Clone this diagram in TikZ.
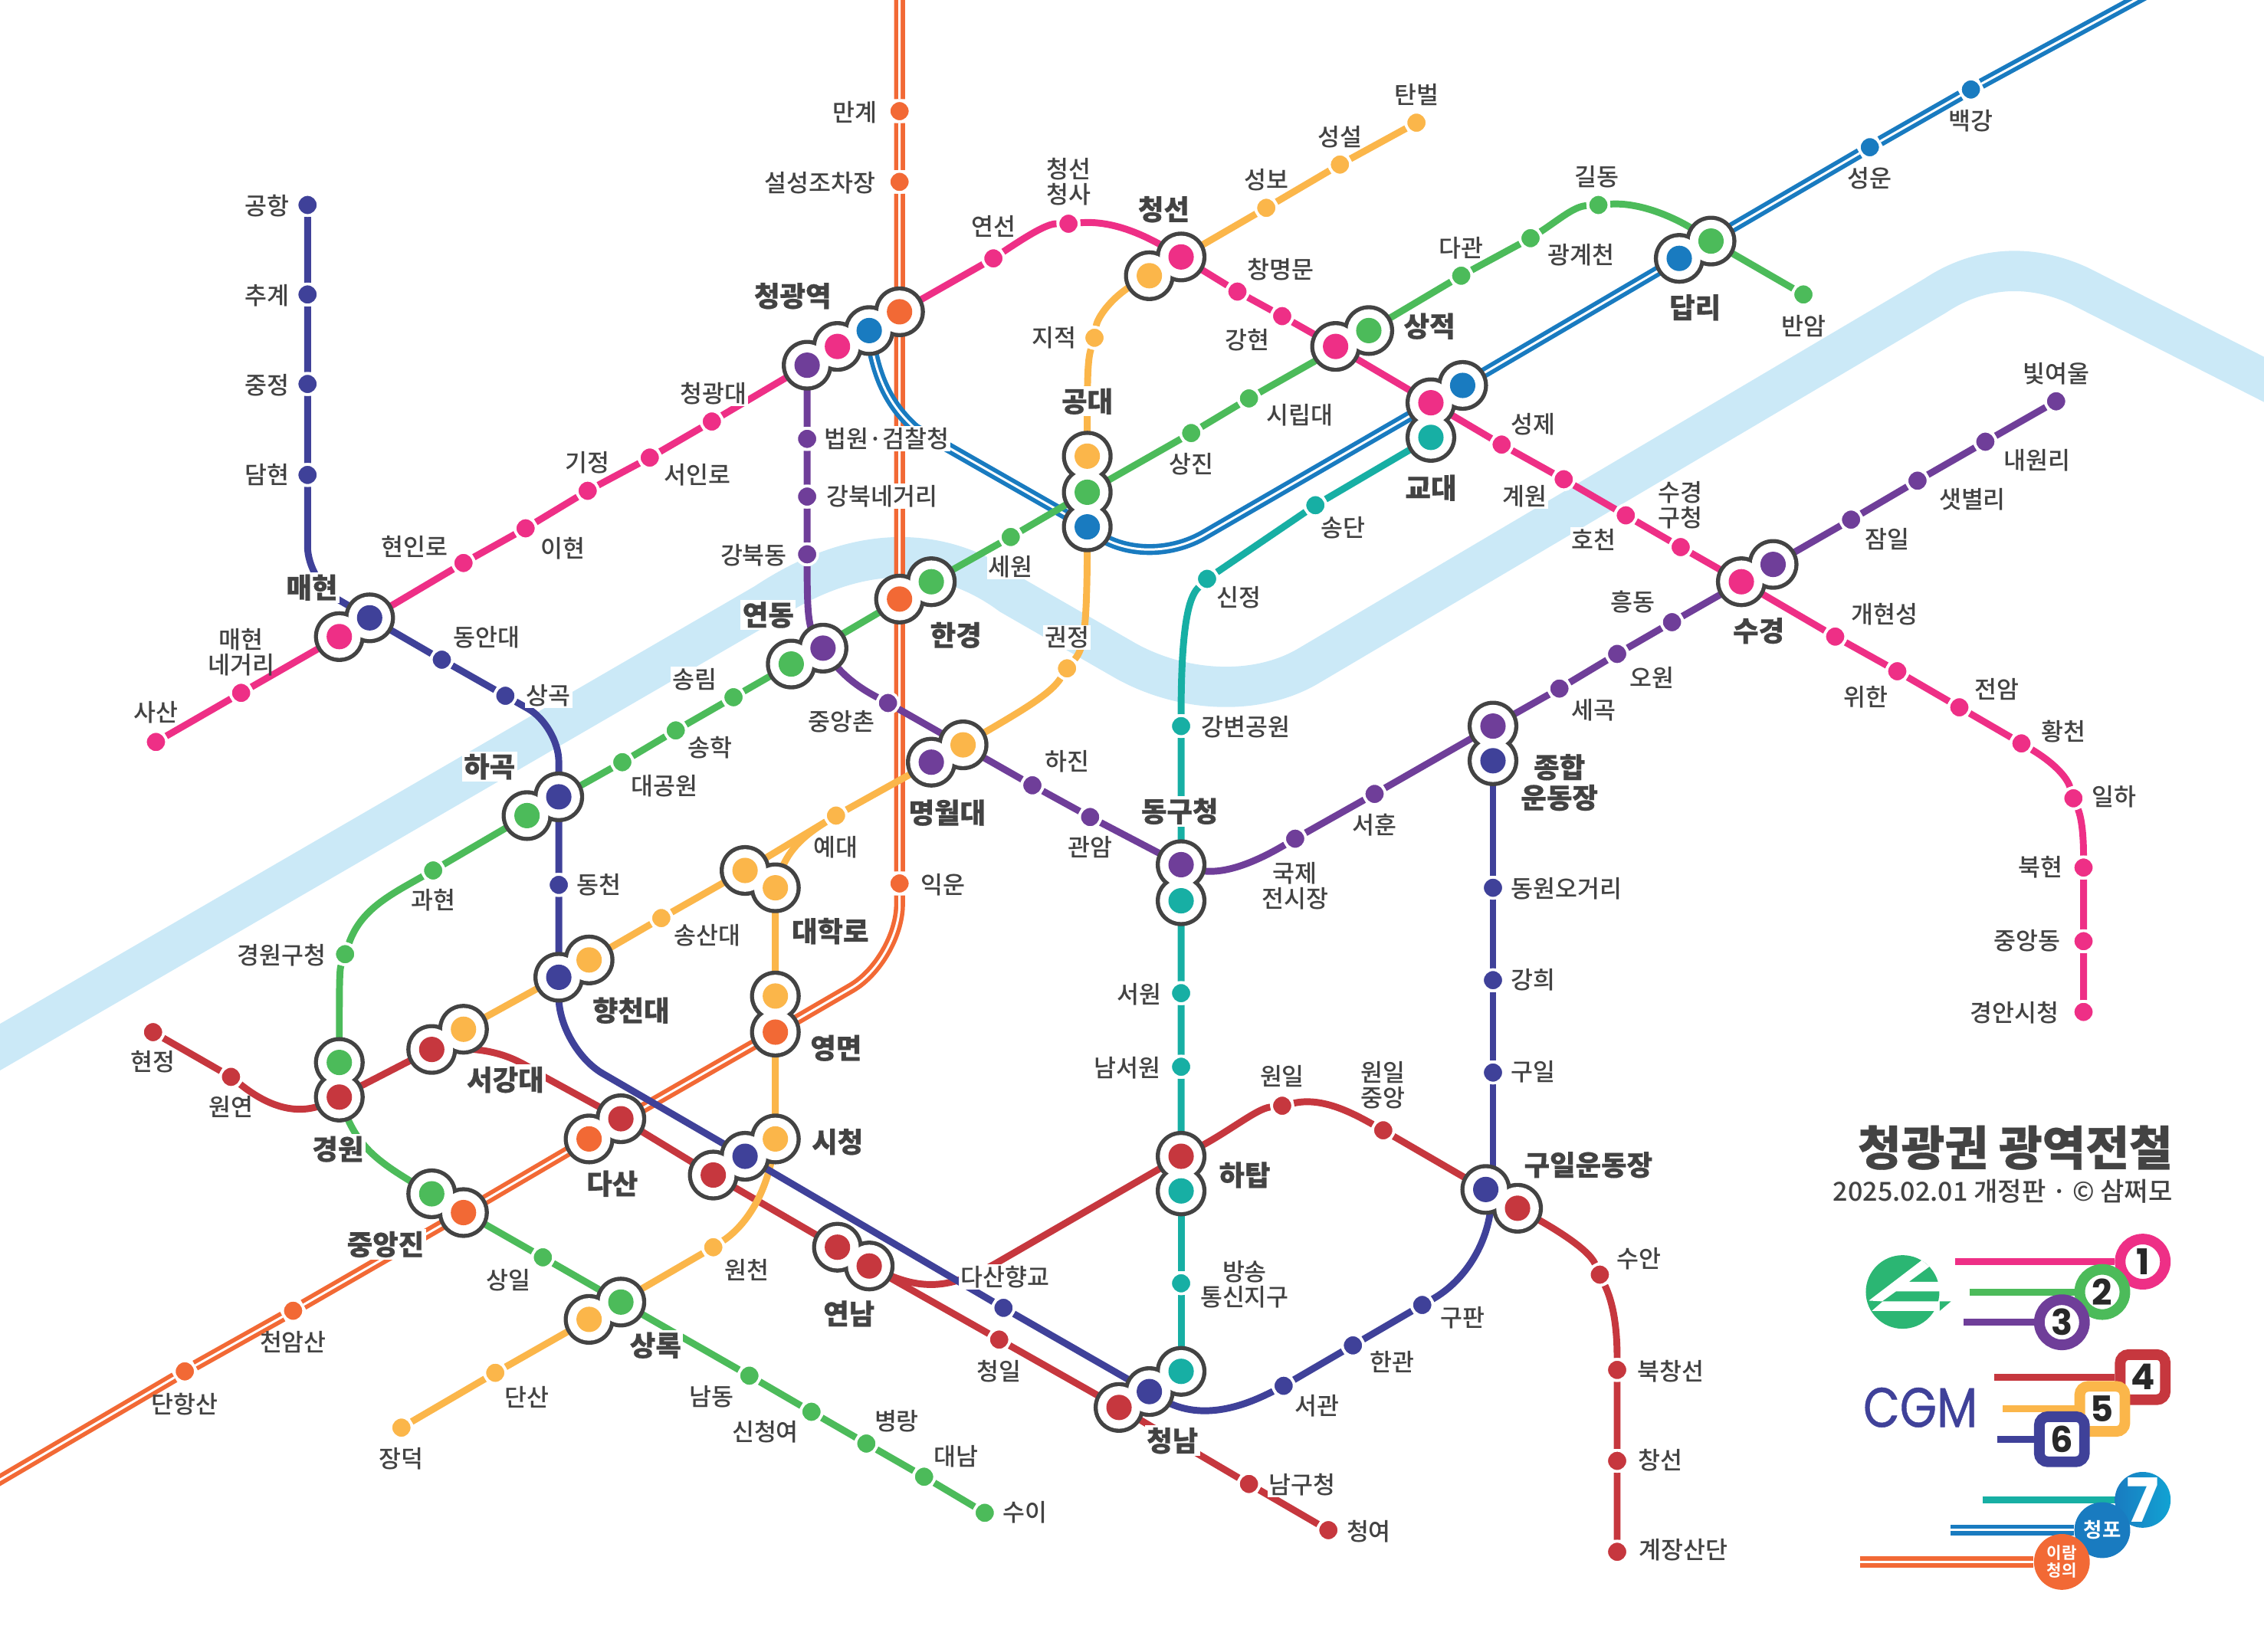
\documentclass[tikz,border=0pt]{standalone}
\usepackage{fontspec}
\usepackage{xcolor}
\setmainfont{Noto Sans CJK KR Medium}
\newfontfamily\hvyfont[FakeBold=0.5]{Noto Sans CJK KR Black}
\newfontfamily\bldfont{Noto Sans CJK KR Bold}
\newfontfamily\numfont{Poppins}
\newfontfamily\cgmfont[FakeBold=0.7]{Poppins}
\usetikzlibrary{calc}
\definecolor{pnk}{HTML}{EE2F86}
\definecolor{grn}{HTML}{4CBB5A}
\definecolor{prp}{HTML}{6F3E99}
\definecolor{rdd}{HTML}{C6373E}
\definecolor{ylw}{HTML}{FBB64A}
\definecolor{nvy}{HTML}{3F4199}
\definecolor{tel}{HTML}{17AFA4}
\definecolor{blu}{HTML}{197BC0}
\definecolor{org}{HTML}{F26935}
\definecolor{drk}{HTML}{434343}
\definecolor{riv}{HTML}{CBE9F7}
\definecolor{lgo}{HTML}{2BB673}
\pgfdeclarelayer{river}
\pgfdeclarelayer{lines}
\pgfdeclarelayer{rings}
\pgfsetlayers{river,lines,rings,main}
\newcommand{\xring}[1]{
  \foreach \s in {#1} {\fill[drk] (\s.center) circle (10pt);}
  \foreach \s in {#1} {\fill[white] (\s.center) circle (8.4pt);}
}
\tikzset{
  ln/.style={draw=#1, line width=2.7pt},
  dbl/.style={draw=#1, line width=1.7pt, double=white, double distance=0.9pt},
  st/.style={circle, fill=#1, draw=white, line width=1.1pt, minimum size=8.3pt, inner sep=0pt},
  xd/.style={circle, fill=#1, minimum size=10pt, inner sep=0pt},
  lbl/.style={text=drk, inner sep=0.6pt, align=center, yshift=-0.4pt, font=\fontsize{9.5}{10}\selectfont},
  lblw/.style={lbl, fill=white},
  big/.style={text=drk, inner sep=0.8pt, align=center, font=\hvyfont\fontsize{11}{12}\selectfont},
  bigw/.style={big, fill=white},
  lgc/.style={circle, draw=#1, fill=white, line width=4.2pt, minimum size=17.8pt, inner sep=0pt, text=drk!60!black, font=\numfont\bfseries\fontsize{14}{14}\selectfont},
  lgs/.style={rectangle, rounded corners=3.4pt, draw=#1, fill=white, line width=4.2pt, minimum size=17.8pt, inner sep=0pt, text=drk!60!black, font=\numfont\bfseries\fontsize{14}{14}\selectfont},
}
\begin{document}
\begin{tikzpicture}[x=0.02cm, y=-0.02cm]
\useasboundingbox (0,0) rectangle (1568,1144.4);

% river
\begin{pgfonlayer}{river}
\draw[riv, line width=15.9pt] (-20,737) -- (530,418) .. controls (590,378) and (650,375) .. (700,412) -- (780,458) .. controls (820,480) and (870,482) .. (905,462) -- (1340,205) .. controls (1370,185) and (1405,182) .. (1440,198) -- (1590,274);
\end{pgfonlayer}

% line 1 stations
\node[st=pnk] (sasan) at (108,514) {};
\node[st=pnk] (mhng) at (167,480) {};
\node[xd=pnk] (mhp) at (235,441) {};
\node[st=pnk] (hyeonin) at (321,390) {};
\node[st=pnk] (ihyeon) at (364,366) {};
\node[st=pnk] (gijeong) at (407,340) {};
\node[st=pnk] (seoin) at (450,317) {};
\node[st=pnk] (cgdae) at (493,292) {};
\node[xd=pnk] (cgp) at (580,240) {};
\node[st=pnk] (yeonseon) at (688,179) {};
\node[st=pnk] (csch) at (740,155) {};
\node[xd=pnk] (csp) at (818,178) {};
\node[st=pnk] (changm) at (857,202) {};
\node[st=pnk] (ganghyeon) at (888,219) {};
\node[xd=pnk] (sjp) at (925,240) {};
\node[xd=pnk] (gyp) at (991,279) {};
\node[st=pnk] (gyewon) at (1040,308) {};
\node[st=pnk] (seongje) at (1083,332) {};
\node[st=pnk] (hocheon) at (1126,357) {};
\node[st=pnk] (sggu) at (1164,379) {};
\node[xd=pnk] (skp) at (1206,403) {};
\node[st=pnk] (gaehyeon) at (1271,441) {};
\node[st=pnk] (wihan) at (1314,465) {};
\node[st=pnk] (jeonam) at (1357,490) {};
\node[st=pnk] (hwangcheon) at (1400,515) {};
\node[st=pnk] (ilha) at (1436,553) {};
\node[st=pnk] (bukhyeon) at (1443,601) {};
\node[st=pnk] (jungang) at (1443,652) {};
\node[st=pnk] (gasi) at (1443,701) {};

% line 2 stations
\node[st=grn] (banam) at (1249,204) {};
\node[xd=grn] (dlg) at (1185,167) {};
\node[st=grn] (gildong) at (1107,142) {};
\node[st=grn] (gwanggye) at (1060,165) {};
\node[st=grn] (dagwan) at (1012,191) {};
\node[xd=grn] (sjg) at (948,229) {};
\node[st=grn] (sirip) at (865,276) {};
\node[st=grn] (sangjin) at (825,300) {};
\node[xd=grn] (gdg) at (753,341) {};
\node[st=grn] (sewon) at (700,372) {};
\node[xd=grn] (hgg) at (645,403) {};
\node[xd=grn] (ydg) at (548,460) {};
\node[st=grn] (songnim) at (508,483) {};
\node[st=grn] (songhak) at (468,506) {};
\node[st=grn] (daegong) at (431,528) {};
\node[xd=grn] (hkg) at (365,565) {};
\node[st=grn] (gwahyeon) at (300,603) {};
\node[st=grn] (gwgu) at (239,661) {};
\node[xd=grn] (gwg) at (235,736) {};
\node[xd=grn] (jag) at (299,827) {};
\node[st=grn] (sangil) at (376,871) {};
\node[xd=grn] (srg) at (430,902) {};
\node[st=grn] (namdong) at (519,953) {};
\node[st=grn] (scy) at (562,978) {};
\node[st=grn] (byeong) at (600,1000) {};
\node[st=grn] (daenam) at (640,1023) {};
\node[st=grn] (sui) at (682,1048) {};

% line 3 stations
\node[xd=prp] (cgv) at (559,253) {};
\node[st=prp] (beopwon) at (559,304) {};
\node[st=prp] (gbng) at (559,344) {};
\node[st=prp] (gbd) at (559,384) {};
\node[xd=prp] (ydv) at (570,449) {};
\node[st=prp] (jac) at (615,487) {};
\node[xd=prp] (mwv) at (645,528) {};
\node[st=prp] (hajin) at (715,544) {};
\node[st=prp] (gwanam) at (755,566) {};
\node[xd=prp] (dgv) at (818,599) {};
\node[st=prp] (gukje) at (897,581) {};
\node[st=prp] (seohun) at (952,550) {};
\node[xd=prp] (jhv) at (1034,503) {};
\node[st=prp] (segok) at (1080,477) {};
\node[st=prp] (owon) at (1120,453) {};
\node[st=prp] (heung) at (1158,431) {};
\node[xd=prp] (skv) at (1228,391) {};
\node[st=prp] (jamil) at (1282,360) {};
\node[st=prp] (saet) at (1328,333) {};
\node[st=prp] (naewon) at (1375,306) {};
\node[st=prp] (bit) at (1424,278) {};

% line 4 stations
\node[st=rdd] (hyeonj) at (106,715) {};
\node[st=rdd] (wonyeon) at (160,746) {};
\node[xd=rdd] (gwr) at (235,760) {};
\node[xd=rdd] (sgr) at (299,727) {};
\node[xd=rdd] (dsr) at (430,775) {};
\node[xd=rdd] (scr) at (494,814) {};
\node[xd=rdd] (ynr) at (580,864) {};
\node[xd=rdd] (ynq) at (602,877) {};
\node[st=rdd] (cheongil) at (692,928) {};
\node[xd=rdd] (cnr) at (775,975) {};
\node[st=rdd] (namgu) at (865,1028) {};
\node[st=rdd] (cheongyeo) at (920,1060) {};
\node[xd=rdd] (htr) at (818,801) {};
\node[st=rdd] (wonil) at (888,766) {};
\node[st=rdd] (wonjung) at (958,783) {};
\node[xd=rdd] (gur) at (1051,837) {};
\node[st=rdd] (suan) at (1108,883) {};
\node[st=rdd] (bukchang) at (1120,949) {};
\node[st=rdd] (changseon) at (1120,1012) {};
\node[st=rdd] (gyejang) at (1120,1075) {};

% line 5 stations
\node[st=ylw] (taenbyeol) at (981,85) {};
\node[st=ylw] (seongseol) at (928,114) {};
\node[st=ylw] (seongbo) at (877,144) {};
\node[xd=ylw] (csy) at (796,191) {};
\node[st=ylw] (jijeok) at (758,234) {};
\node[xd=ylw] (gdy) at (753,316) {};
\node[st=ylw] (gwon) at (739,463) {};
\node[xd=ylw] (mwy) at (667,516) {};
\node[st=ylw] (yedae) at (579,565) {};
\node[xd=ylw] (dhy) at (516,603) {};
\node[xd=ylw] (dhz) at (537,615) {};
\node[st=ylw] (songsan) at (458,636) {};
\node[xd=ylw] (hcy) at (408,665) {};
\node[xd=ylw] (sgy) at (321,713) {};
\node[xd=ylw] (ymy) at (537,690) {};
\node[xd=ylw] (scy5) at (537,789) {};
\node[st=ylw] (woncheon) at (494,864) {};
\node[xd=ylw] (sry) at (408,914) {};
\node[st=ylw] (dansan) at (343,951) {};
\node[st=ylw] (jangdeok) at (278,989) {};

% line 6 stations
\node[st=nvy] (gonghang) at (213,142) {};
\node[st=nvy] (chugye) at (213,204) {};
\node[st=nvy] (jungjeong) at (213,266) {};
\node[st=nvy] (damhyeon) at (213,329) {};
\node[xd=nvy] (mhn) at (256,428) {};
\node[st=nvy] (dongan) at (306,457) {};
\node[st=nvy] (sanggok) at (350,482) {};
\node[xd=nvy] (hkn) at (387,552) {};
\node[st=nvy] (dongcheon) at (387,613) {};
\node[xd=nvy] (hcn) at (387,677) {};
\node[xd=nvy] (scn) at (516,801) {};
\node[st=nvy] (dshg) at (695,906) {};
\node[xd=nvy] (cnn) at (796,964) {};
\node[st=nvy] (seogwan) at (889,960) {};
\node[st=nvy] (hangwan) at (937,932) {};
\node[st=nvy] (gupan) at (985,904) {};
\node[xd=nvy] (gun) at (1029,824) {};
\node[st=nvy] (guil) at (1034,743) {};
\node[st=nvy] (ganghui) at (1034,679) {};
\node[st=nvy] (dwog) at (1034,615) {};
\node[xd=nvy] (jhn) at (1034,527) {};

% line 7 stations
\node[xd=tel] (gyt) at (991,303) {};
\node[st=tel] (songdan) at (911,350) {};
\node[st=tel] (sinjeong) at (836,401) {};
\node[st=tel] (gbgw) at (818,503) {};
\node[xd=tel] (dgt) at (818,624) {};
\node[st=tel] (seowon) at (818,688) {};
\node[st=tel] (namseo) at (818,739) {};
\node[xd=tel] (htt) at (818,825) {};
\node[st=tel] (bangsong) at (818,889) {};
\node[xd=tel] (cnt) at (818,950) {};

% blue and orange stations
\node[st=blu] (baekgang) at (1365,62) {};
\node[st=blu] (seongun) at (1295,102) {};
\node[xd=blu] (dlb) at (1163,179) {};
\node[xd=blu] (gyb) at (1013,267) {};
\node[xd=blu] (gdb) at (753,365) {};
\node[xd=blu] (cgb) at (602,229) {};
\node[st=org] (mangye) at (623,77) {};
\node[st=org] (seolseong) at (623,126) {};
\node[xd=org] (cgo) at (623,216) {};
\node[xd=org] (hgo) at (623,415) {};
\node[st=org] (ikun) at (623,612) {};
\node[xd=org] (ymo) at (537,715) {};
\node[xd=org] (dso) at (408,789) {};
\node[xd=org] (jao) at (321,840) {};
\node[st=org] (cheonam) at (203,908) {};
\node[st=org] (danhang) at (128,950) {};

% free ends and corners
\coordinate (blutop) at (1490,-6);
\coordinate (orgtop) at (623,-6);
\coordinate (orgend) at (-10,1031);
\coordinate (orgc) at (623,665);
\coordinate (mhc) at (213,403);
\coordinate (sgc) at (387,503);
\coordinate (hcc) at (387,726);

\begin{pgfonlayer}{lines}
% orange and blue
\draw[dbl=org, rounded corners=22pt] (orgtop) -- (mangye) -- (seolseong) -- (cgo) -- (hgo) -- (ikun) -- (orgc) -- (ymo) -- (dso) -- (jao) -- (cheonam) -- (danhang) -- (orgend);
\draw[dbl=blu] (blutop) -- (baekgang) -- (seongun) -- (dlb);
\draw[dbl=blu] (dlb) -- (gyb);
\draw[dbl=blu] (gyb.center) -- (835,370) .. controls (810,385) and (775,385) .. (gdb.center);
\draw[dbl=blu] (gdb.center) -- (634,297) .. controls (615,280) and (606,260) .. (cgb.center);
% line 1
\draw[ln=pnk] (sasan) -- (mhng) -- (mhp) -- (hyeonin) -- (ihyeon) -- (gijeong) -- (seoin) -- (cgdae) -- (cgv);
\draw[ln=pnk] (cgo) -- (yeonseon) .. controls (712,163) and (725,155) .. (csch) .. controls (765,153) and (785,158) .. (csp);
\draw[ln=pnk] (csp) -- (changm) -- (ganghyeon) -- (sjp) -- (gyp) -- (gyewon) -- (seongje) -- (hocheon) -- (sggu) -- (skp) -- (gaehyeon) -- (wihan) -- (jeonam) -- (hwangcheon);
\draw[ln=pnk] (hwangcheon) .. controls (1425,530) and (1432,540) .. (ilha) .. controls (1441,565) and (1443,575) .. (bukhyeon) -- (jungang) -- (gasi);
% line 2
\draw[ln=grn] (banam) -- (dlg) .. controls (1160,150) and (1135,140) .. (gildong) .. controls (1090,143) and (1080,152) .. (gwanggye) -- (dagwan) -- (sjg) -- (sirip) -- (sangjin) -- (gdg) -- (sewon) -- (hgg) -- (ydg) -- (songnim) -- (songhak) -- (daegong) -- (hkg) -- (gwahyeon);
\draw[ln=grn] (gwahyeon) .. controls (270,620) and (250,630) .. (gwgu) .. controls (235,672) and (235,685) .. (gwg);
\draw[ln=grn] (gwr) .. controls (248,795) and (262,805) .. (jag) -- (sangil) -- (srg) -- (namdong) -- (scy) -- (byeong) -- (daenam) -- (sui);
% line 3
\draw[ln=prp] (cgv) -- (beopwon) -- (gbng) -- (gbd) .. controls (559,425) and (560,435) .. (ydv) .. controls (585,470) and (598,478) .. (jac) -- (hajin) -- (gwanam) -- (dgv) .. controls (845,608) and (870,597) .. (gukje) -- (seohun) -- (jhv) -- (segok) -- (owon) -- (heung) -- (skv) -- (jamil) -- (saet) -- (naewon) -- (bit);
% line 4
\draw[ln=rdd] (hyeonj) -- (wonyeon) .. controls (190,770) and (210,772) .. (gwr) -- (sgr);
\draw[ln=rdd] (sgr) .. controls (345,725) and (360,735) .. (377,746) -- (dsr) -- (scr) -- (ynr) -- (ynq) -- (cheongil) -- (cnr) -- (namgu) -- (cheongyeo);
\draw[ln=rdd] (ynq) .. controls (640,895) and (660,892) .. (690,875) -- (htr) .. controls (850,785) and (870,768) .. (wonil) .. controls (915,760) and (935,770) .. (wonjung) -- (gur) .. controls (1075,850) and (1100,865) .. (suan) .. controls (1116,900) and (1120,915) .. (bukchang) -- (changseon) -- (gyejang);
% line 5
\draw[ln=ylw] (taenbyeol) -- (seongseol) -- (seongbo) -- (csy) .. controls (770,205) and (760,220) .. (jijeok) .. controls (753,250) and (753,265) .. (gdy);
\draw[ln=ylw] (gdb) .. controls (753,440) and (750,450) .. (gwon) .. controls (728,480) and (712,490) .. (mwy) -- (yedae) -- (dhy) -- (songsan) -- (hcy) -- (sgy);
\draw[ln=ylw] (yedae) .. controls (555,580) and (545,590) .. (dhz) -- (ymy);
\draw[ln=ylw] (ymo) -- (scy5) .. controls (530,830) and (515,850) .. (woncheon) -- (sry) -- (dansan) -- (jangdeok);
% line 6
\draw[ln=nvy, rounded corners=14pt] (gonghang) -- (chugye) -- (jungjeong) -- (damhyeon) -- (mhc) -- (mhn) -- (dongan) -- (sanggok) -- (sgc) -- (hkn) -- (dongcheon) -- (hcn);
\draw[ln=nvy, rounded corners=20pt] (hcn) -- (hcc) -- (scn) -- (dshg) -- (cnn);
\draw[ln=nvy] (cnn) .. controls (830,985) and (860,975) .. (seogwan) -- (hangwan) -- (gupan) .. controls (1015,887) and (1032,860) .. (1033,830);
\draw[ln=nvy] (guil |- gun) -- (guil) -- (ganghui) -- (dwog) -- (jhn);
% line 7
\draw[ln=tel] (gyt) -- (songdan) -- (sinjeong) .. controls (825,412) and (818,425) .. (gbgw) -- (dgt) -- (seowon) -- (namseo) -- (htr);
\draw[ln=tel] (htt) -- (bangsong) -- (cnt);
\end{pgfonlayer}

% interchange outlines
\begin{pgfonlayer}{rings}
\xring{mhp,mhn}
\xring{cgv,cgp,cgb,cgo}
\xring{ydg,ydv}
\xring{hgo,hgg}
\xring{mwv,mwy}
\xring{hkg,hkn}
\xring{dhy,dhz}
\xring{hcn,hcy}
\xring{ymy,ymo}
\xring{sgr,sgy}
\xring{gwg,gwr}
\xring{dso,dsr}
\xring{scr,scn,scy5}
\xring{jag,jao}
\xring{sry,srg}
\xring{ynr,ynq}
\xring{cnr,cnn,cnt}
\xring{htr,htt}
\xring{gun,gur}
\xring{dgv,dgt}
\xring{jhv,jhn}
\xring{gdy,gdg,gdb}
\xring{csy,csp}
\xring{sjp,sjg}
\xring{gyt,gyp,gyb}
\xring{dlb,dlg}
\xring{skp,skv}
\end{pgfonlayer}

% labels, line 1
\node[lbl] (tsasan) at (108,493) {사산};
\node[lbl] (tmhng) at (167,451) {매현\\네거리};
\node[bigw] (tmh) at (216,407) {매현};
\node[lblw] (thyeonin) at (287,378) {현인로};
\node[lbl] (tihyeon) at (390,379) {이현};
\node[lbl] (tgijeong) at (407,320) {기정};
\node[lbl] (tseoin) at (483,328) {서인로};
\node[lblw] (tcgdae) at (494,272) {청광대};
\node[big] (tcg) at (549,205) {청광역};
\node[lbl] (tyeonseon) at (688,156) {연선};
\node[lbl] (tcsch) at (740,125) {청선\\청사};
\node[big] (tcs) at (806,145) {청선};
\node[lbl] (tchangm) at (887,186) {창명문};
\node[lbl] (tganghyeon) at (864,235) {강현};
\node[lbl] (tseongje) at (1062,293) {성제};
\node[lblw] (tgyewon) at (1056,343) {계원};
\node[lblw] (thocheon) at (1104,373) {호천};
\node[lbl] (tsggu) at (1164,349) {수경\\구청};
\node[big] (tsk) at (1218,437) {수경};
\node[lbl] (tgaehyeon) at (1305,425) {개현성};
\node[lbl] (twihan) at (1292,482) {위한};
\node[lbl] (tjeonam) at (1383,477) {전암};
\node[lbl] (thwangcheon) at (1429,506) {황천};
\node[lbl] (tilha) at (1464,551) {일하};
\node[lbl] (tbukhyeon) at (1413,600) {북현};
\node[lbl] (tjungang) at (1404,651) {중앙동};
\node[lbl] (tgasi) at (1395,701) {경안시청};
% labels, line 2
\node[lbl] (tbanam) at (1249,225) {반암};
\node[lbl] (tgildong) at (1106,122) {길동};
\node[lbl] (tgwanggye) at (1095,176) {광계천};
\node[lbl] (tdagwan) at (1012,171) {다관};
\node[big] (tsj) at (990,226) {상적};
\node[lbl] (tsirip) at (900,287) {시립대};
\node[lbl] (tsangjin) at (825,321) {상진};
\node[bigw] (tgd) at (753,278) {공대};
\node[lblw] (tsewon) at (700,392) {세원};
\node[bigw] (thg) at (662,440) {한경};
\node[bigw] (tyd) at (532,426) {연동};
\node[lblw] (tsongnim) at (481,470) {송림};
\node[lbl] (tsonghak) at (492,517) {송학};
\node[lbl] (tdaegong) at (460,544) {대공원};
\node[bigw] (thk) at (339,531) {하곡};
\node[lbl] (tgwahyeon) at (300,623) {과현};
\node[lbl] (tgwgu) at (195,661) {경원구청};
\node[bigw] (tgw) at (234,796) {경원};
\node[bigw] (tja) at (267,862) {중앙진};
\node[lbl] (tsangil) at (352,886) {상일};
\node[bigw] (tsr) at (454,932) {상록};
\node[lbl] (tnamdong) at (493,967) {남동};
\node[lbl] (tscy) at (530,991) {신청여};
\node[lbl] (tbyeong) at (621,984) {병랑};
\node[lbl] (tdaenam) at (662,1008) {대남};
\node[lbl] (tsui) at (710,1047) {수이};
% labels, line 3
\node[lblw] (tbeopwon) at (614,303) {법원·검찰청};
\node[lblw] (tgbng) at (611,343) {강북네거리};
\node[lbl] (tgbd) at (522,384) {강북동};
\node[lbl] (tjac) at (583,499) {중앙촌};
\node[lbl] (thajin) at (739,527) {하진};
\node[lbl] (tgwanam) at (755,586) {관암};
\node[bigw] (tdg) at (817,562) {동구청};
\node[lbl] (tgukje) at (897,613) {국제\\전시장};
\node[lbl] (tseohun) at (952,571) {서훈};
\node[lbl] (tsegok) at (1104,491) {세곡};
\node[lbl] (towon) at (1144,469) {오원};
\node[big] (tjh) at (1080,542) {종합\\운동장};
\node[lbl] (theung) at (1131,416) {흥동};
\node[lbl] (tjamil) at (1307,373) {잠일};
\node[lbl] (tsaet) at (1366,345) {샛별리};
\node[lbl] (tnaewon) at (1411,318) {내원리};
\node[lbl] (tbit) at (1424,258) {빛여울};
% labels, line 4
\node[lbl] (thyeonj) at (106,735) {현정};
\node[lbl] (twonyeon) at (160,766) {원연};
\node[bigw] (tsg) at (350,748) {서강대};
\node[big] (tds) at (424,820) {다산};
\node[big] (tyn) at (588,910) {연남};
\node[lbl] (tcheongil) at (692,949) {청일};
\node[bigw] (tcn) at (812,998) {청남};
\node[lblw] (tnamgu) at (902,1028) {남구청};
\node[lbl] (tcheongyeo) at (948,1060) {청여};
\node[lblw] (tdshg) at (696,884) {다산향교};
\node[lbl] (twonil) at (888,745) {원일};
\node[lbl] (twonjung) at (958,751) {원일\\중앙};
\node[big] (tht) at (862,814) {하탑};
\node[big] (tgu) at (1100,807) {구일운동장};
\node[lbl] (tsuan) at (1135,871) {수안};
\node[lbl] (tbukchang) at (1157,949) {북창선};
\node[lbl] (tchangseon) at (1150,1011) {창선};
\node[lbl] (tgyejang) at (1166,1073) {계장산단};
% labels, line 5
\node[lbl] (ttaenbyeol) at (981,65) {탄벌};
\node[lbl] (tseongseol) at (928,94) {성설};
\node[lbl] (tseongbo) at (877,124) {성보};
\node[lbl] (tjijeok) at (730,233) {지적};
\node[lblw] (tgwon) at (739,441) {권정};
\node[big] (tmw) at (656,563) {명월대};
\node[lbl] (tyedae) at (579,586) {예대};
\node[big] (tdh) at (575,645) {대학로};
\node[lbl] (tsongsan) at (490,647) {송산대};
\node[big] (tym) at (579,726) {영면};
\node[big] (tsc) at (580,791) {시청};
\node[big] (thc) at (437,700) {향천대};
\node[lbl] (twoncheon) at (517,879) {원천};
\node[lbl] (tdansan) at (365,967) {단산};
\node[lbl] (tjangdeok) at (278,1010) {장덕};
% labels, line 6
\node[lbl] (tgonghang) at (185,142) {공항};
\node[lbl] (tchugye) at (185,204) {추계};
\node[lbl] (tjungjeong) at (185,266) {중정};
\node[lbl] (tdamhyeon) at (185,328) {담현};
\node[lbl] (tdongan) at (337,441) {동안대};
\node[lblw] (tsanggok) at (380,481) {상곡};
\node[lbl] (tdongcheon) at (415,612) {동천};
\node[lbl] (tseogwan) at (912,973) {서관};
\node[lbl] (thangwan) at (964,943) {한관};
\node[lbl] (tgupan) at (1013,912) {구판};
\node[lbl] (tdwog) at (1085,615) {동원오거리};
\node[lbl] (tganghui) at (1062,678) {강희};
\node[lbl] (tguil) at (1062,742) {구일};
% labels, line 7, blue, orange
\node[big] (tgy) at (991,338) {교대};
\node[lbl] (tsongdan) at (930,365) {송단};
\node[lblw] (tsinjeong) at (858,413) {신정};
\node[lbl] (tgbgw) at (863,503) {강변공원};
\node[lbl] (tseowon) at (789,688) {서원};
\node[lbl] (tnamseo) at (781,739) {남서원};
\node[lbl] (tbangsong) at (862,889) {방송\\통신지구};
\node[lbl] (tmangye) at (592,77) {만계};
\node[lbl] (tseolseong) at (568,126) {설성조차장};
\node[lbl] (tikun) at (653,612) {익운};
\node[lbl] (tcheonam) at (203,929) {천암산};
\node[lbl] (tdanhang) at (128,972) {단항산};
\node[lbl] (tbaekgang) at (1365,83) {백강};
\node[lbl] (tseongun) at (1295,123) {성운};
\node[big] (tdl) at (1174,213) {답리};

% title
\node[text=drk, inner sep=0pt, font=\hvyfont\fontsize{18.6}{19}\selectfont, anchor=east] (ttitle) at (1505,795) {청광권 광역전철};
\node[text=drk, inner sep=0pt, font=\fontsize{10.3}{11}\selectfont, anchor=east] (tsub) at (1505,825) {2025.02.01 개정판 · © 삼쩌모};

% logos
\fill[lgo] (1317.7,895) circle (14.5pt);
\fill[white] (1331,873) -- (1336.3,877.4) -- (1322,888) -- (1342.4,888) -- (1345,894.6) -- (1313.1,894.6) -- (1303.5,901.5) -- (1294.3,901) -- cycle;
\fill[white] (1296.4,908.1) -- (1304,901.5) -- (1343.4,901.5) -- (1343.4,908.1) -- cycle;
\fill[lgo] (1343.4,901.5) -- (1351.2,901.5) -- (1343.4,908.1) -- cycle;
\node[text=nvy, inner sep=0pt, font=\cgmfont\fontsize{22}{22}\selectfont] (tcgm) at (1330,975) {\scalebox{0.85}[1]{CGM}};

% legend
\coordinate (lg1a) at (1354,874);
\coordinate (lg2a) at (1364,895);
\coordinate (lg3a) at (1360,916);
\coordinate (lg4a) at (1381,954);
\coordinate (lg5a) at (1387,976);
\coordinate (lg6a) at (1383,997);
\coordinate (lg7a) at (1373,1039);
\coordinate (lgba) at (1351,1060);
\coordinate (lgoa) at (1288,1082);
\node[lgc=pnk] (lg1) at (1484,874) {1};
\node[lgc=grn] (lg2) at (1456,895) {2};
\node[lgc=prp] (lg3) at (1428,916) {3};
\node[lgs=rdd] (lg4) at (1484,954) {4};
\node[lgs=ylw] (lg5) at (1456,976) {5};
\node[lgs=nvy] (lg6) at (1428,997) {6};
\node[circle, minimum size=22pt, inner sep=0pt, left color=blu, right color=blu!70!cyan, text=white, font=\numfont\bfseries\fontsize{24}{24}\selectfont] (lg7) at (1484,1039) {7};
\node[circle, minimum size=22pt, inner sep=0pt, fill=blu, text=white, font=\bldfont\fontsize{8}{8}\selectfont] (lgb) at (1456,1060) {청포};
\node[circle, minimum size=22pt, inner sep=0pt, fill=org, text=white, align=center, font=\bldfont\fontsize{6.4}{7}\selectfont] (lgo) at (1428,1082) {이람\\청의};
\begin{pgfonlayer}{lines}
\draw[ln=pnk] (lg1a) -- (lg1);
\draw[ln=grn] (lg2a) -- (lg2);
\draw[ln=prp] (lg3a) -- (lg3);
\draw[ln=rdd] (lg4a) -- (lg4);
\draw[ln=ylw] (lg5a) -- (lg5);
\draw[ln=nvy] (lg6a) -- (lg6);
\draw[ln=tel] (lg7a) -- (lg7);
\draw[dbl=blu] (lgba) -- (lgb);
\draw[dbl=org] (lgoa) -- (lgo);
\end{pgfonlayer}
\end{tikzpicture}
\end{document}
